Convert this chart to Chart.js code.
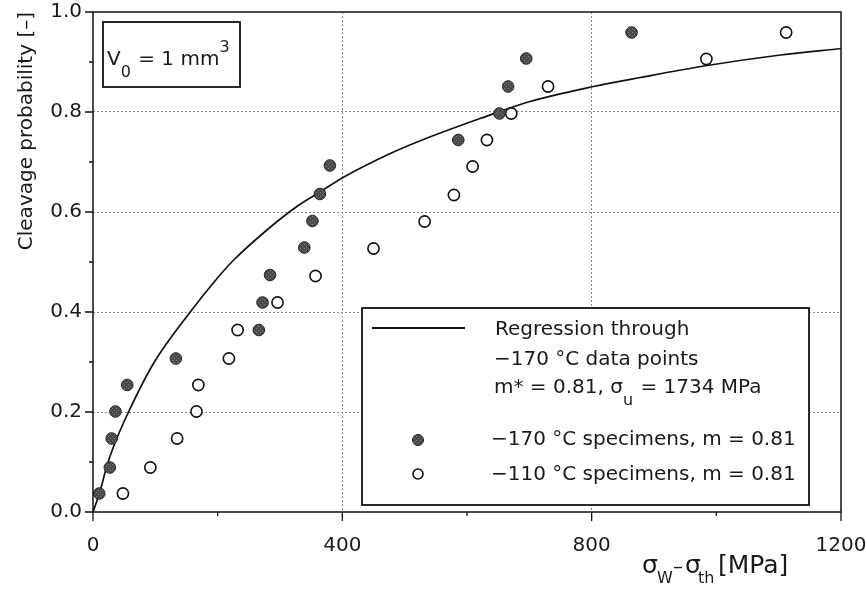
<!DOCTYPE html>
<html>
<head>
<meta charset="utf-8">
<script src="https://cdn.jsdelivr.net/npm/chart.js@4.4.1/dist/chart.umd.min.js"></script>
<style>
  html, body { margin: 0; padding: 0; background: #fff; }
</style>
</head>
<body>
<canvas id="myChart" width="867" height="589"></canvas>
<script>
// values
var xTicks = [0, 400, 800, 1200]
var xMinor = [200, 600, 1000]
var yTicks = [0, 0.2, 0.4, 0.6, 0.8, 1.0]
var yMinor = [0.1, 0.3, 0.5, 0.7, 0.9]

// -170 C specimens (filled)
var coldX = [10, 27, 30, 36, 55, 133, 266, 272, 284, 339, 352, 364, 380, 586, 652, 666, 695, 864]
var coldY = [0.037, 0.089, 0.147, 0.201, 0.254, 0.307, 0.364, 0.419, 0.474, 0.529, 0.582, 0.636, 0.693, 0.744, 0.797, 0.851, 0.907, 0.959]

// -110 C specimens (open)
var warmX = [48, 92, 135, 166, 169, 218, 232, 296, 357, 450, 532, 579, 609, 632, 671, 730, 984, 1112]
var warmY = [0.037, 0.089, 0.147, 0.201, 0.254, 0.307, 0.364, 0.419, 0.472, 0.527, 0.581, 0.634, 0.691, 0.744, 0.797, 0.851, 0.906, 0.959]

// regression curve through -170 C points
var fitX = [0, 11, 22, 33, 57, 97, 156, 201, 225, 279, 327, 364, 404, 477, 530, 621, 701, 803, 878, 980, 1103, 1200]
var fitY = [0, 0.04, 0.091, 0.131, 0.2, 0.297, 0.4, 0.47, 0.503, 0.564, 0.611, 0.64, 0.671, 0.717, 0.745, 0.787, 0.821, 0.851, 0.869, 0.892, 0.914, 0.927]

var FONT = '"DejaVu Sans", sans-serif'

function pts(xs, ys) {
  return xs.map(function (x, i) { return {x: x, y: ys[i]} })
}

// stippled grey fill like the printed dots
function stipple() {
  var c = document.createElement('canvas')
  c.width = 4; c.height = 4
  var g = c.getContext('2d')
  g.fillStyle = '#4a4a4a'
  g.fillRect(0, 0, 4, 4)
  g.fillStyle = '#7c7c7c'
  g.fillRect(0, 0, 1, 1)
  g.fillRect(2, 2, 1, 1)
  return g.createPattern(c, 'repeat')
}
var dotFill = stipple()

// text with sub/superscript pieces
function runs(ctx, x, base, list) {
  list.forEach(function (r) {
    ctx.font = (r.size || 20) + 'px ' + FONT
    ctx.fillText(r.t, r.x != null ? r.x : x, base + (r.dy || 0))
    x = (r.x != null ? r.x : x) + ctx.measureText(r.t).width + (r.gap || 0)
  })
}

var extras = {
  id: 'extras',
  afterDraw: function (chart) {
    var ctx = chart.ctx
    var a = chart.chartArea
    var xs = chart.scales.x, ys = chart.scales.y
    ctx.save()

    // frame
    ctx.strokeStyle = '#111'
    ctx.lineWidth = 1.5
    ctx.strokeRect(a.left, a.top, a.right - a.left, a.bottom - a.top)

    // tick marks
    ctx.lineWidth = 1.3
    ctx.beginPath()
    yTicks.forEach(function (v) { var p = ys.getPixelForValue(v); ctx.moveTo(a.left - 8, p); ctx.lineTo(a.left, p) })
    yMinor.forEach(function (v) { var p = ys.getPixelForValue(v); ctx.moveTo(a.left - 4, p); ctx.lineTo(a.left, p) })
    xTicks.forEach(function (v) { var p = xs.getPixelForValue(v); ctx.moveTo(p, a.bottom); ctx.lineTo(p, a.bottom + 9) })
    xMinor.forEach(function (v) { var p = xs.getPixelForValue(v); ctx.moveTo(p, a.bottom); ctx.lineTo(p, a.bottom + 4) })
    ctx.stroke()

    ctx.fillStyle = '#1a1a1a'
    ctx.textBaseline = 'alphabetic'
    ctx.textAlign = 'left'

    // V0 box
    ctx.fillStyle = '#fff'
    ctx.fillRect(103, 22, 137, 65)
    ctx.lineWidth = 1.8
    ctx.strokeRect(103, 22, 137, 65)
    ctx.fillStyle = '#1a1a1a'
    runs(ctx, 107, 65, [
      {t: 'V', size: 20},
      {t: '0', size: 16, dy: 12, gap: 1},
      {t: ' = 1 mm', size: 20},
      {t: '3', size: 16, dy: -13}
    ])

    // legend box
    ctx.fillStyle = '#fff'
    ctx.fillRect(362, 308, 447, 197)
    ctx.lineWidth = 1.8
    ctx.strokeRect(362, 308, 447, 197)
    ctx.strokeStyle = '#111'
    ctx.lineWidth = 1.8
    ctx.beginPath(); ctx.moveTo(372, 328); ctx.lineTo(465, 328); ctx.stroke()

    ctx.beginPath(); ctx.arc(418, 440, 5.5, 0, Math.PI * 2)
    ctx.fillStyle = dotFill; ctx.fill()
    ctx.lineWidth = 1; ctx.strokeStyle = '#222'; ctx.stroke()

    ctx.beginPath(); ctx.arc(418, 474, 5, 0, Math.PI * 2)
    ctx.fillStyle = '#fff'; ctx.fill()
    ctx.lineWidth = 1.6; ctx.strokeStyle = '#111'; ctx.stroke()

    ctx.fillStyle = '#1a1a1a'
    ctx.font = '20px ' + FONT
    ctx.fillText('Regression through', 495, 335)
    ctx.fillText('\u2212170 \u00b0C data points', 494, 365)
    runs(ctx, 494, 393, [
      {t: 'm* = 0.81, \u03c3', size: 20},
      {t: 'u', size: 16, dy: 12, gap: 1},
      {t: ' = 1734 MPa', size: 20}
    ])
    ctx.font = '20px ' + FONT
    ctx.fillText('\u2212170 \u00b0C specimens, m = 0.81', 491, 445)
    ctx.fillText('\u2212110 \u00b0C specimens, m = 0.81', 491, 480)

    // x axis title
    runs(ctx, 642, 573, [
      {t: '\u03c3', size: 25, x: 642},
      {t: 'W', size: 16, dy: 10, x: 657},
      {t: '\u2013', size: 20, x: 673},
      {t: '\u03c3', size: 25, x: 685},
      {t: 'th', size: 16, dy: 10, x: 698},
      {t: '[MPa]', size: 25, x: 718}
    ])
    ctx.restore()
  }
}

var gridCol = function (c) {
  return c.tick && c.tick.value > c.scale.min && c.tick.value < c.scale.max ? '#8a8a8a' : 'rgba(0,0,0,0)'
}

var ctx = document.getElementById('myChart').getContext('2d')
var chartOne = new Chart(ctx, {
  type: 'scatter',
  data: {
    datasets: [
      {
        label: '-170 \u00b0C specimens, m = 0.81',
        data: pts(coldX, coldY),
        pointRadius: 5.8,
        pointBackgroundColor: dotFill,
        pointBorderColor: '#222',
        pointBorderWidth: 1
      },
      {
        label: '-110 \u00b0C specimens, m = 0.81',
        data: pts(warmX, warmY),
        pointRadius: 5.6,
        pointBackgroundColor: '#fff',
        pointBorderColor: '#111',
        pointBorderWidth: 1.6
      },
      {
        label: 'Regression through -170 \u00b0C data points',
        type: 'line',
        data: pts(fitX, fitY),
        showLine: true,
        borderColor: '#111',
        borderWidth: 1.7,
        pointRadius: 0,
        fill: false,
        cubicInterpolationMode: 'monotone'
      }
    ]
  },
  options: {
    responsive: false,
    animation: false,
    devicePixelRatio: 1,
    layout: { padding: { top: 12, right: 26, left: 0, bottom: 0 } },
    plugins: { legend: { display: false }, tooltip: { enabled: false } },
    scales: {
      x: {
        type: 'linear', min: 0, max: 1200,
        afterBuildTicks: function (s) { s.ticks = xTicks.map(function (v) { return {value: v} }) },
        afterFit: function (s) { s.height = 77; s.paddingLeft = 0; s.paddingRight = 0 },
        ticks: {
          font: { family: FONT, size: 20 }, color: '#1a1a1a', padding: 22, maxRotation: 0,
          callback: function (v) { return String(v) }
        },
        grid: { color: gridCol, lineWidth: 1, drawTicks: false },
        border: { display: false, dash: [2, 2] }
      },
      y: {
        type: 'linear', min: 0, max: 1,
        afterBuildTicks: function (s) { s.ticks = yTicks.map(function (v) { return {value: v} }) },
        afterFit: function (s) { s.width = 93; s.paddingTop = 0; s.paddingBottom = 0 },
        ticks: {
          font: { family: FONT, size: 20 }, color: '#1a1a1a', padding: 11,
          callback: function (v) { return v.toFixed(1) }
        },
        grid: { color: gridCol, lineWidth: 1, drawTicks: false },
        border: { display: false, dash: [2, 2] },
        title: {
          display: true, text: 'Cleavage probability [\u2013]', align: 'end',
          font: { family: FONT, size: 20 }, color: '#1a1a1a',
          padding: { top: 15, bottom: 0 }
        }
      }
    }
  },
  plugins: [extras]
})
</script>
</body>
</html>
